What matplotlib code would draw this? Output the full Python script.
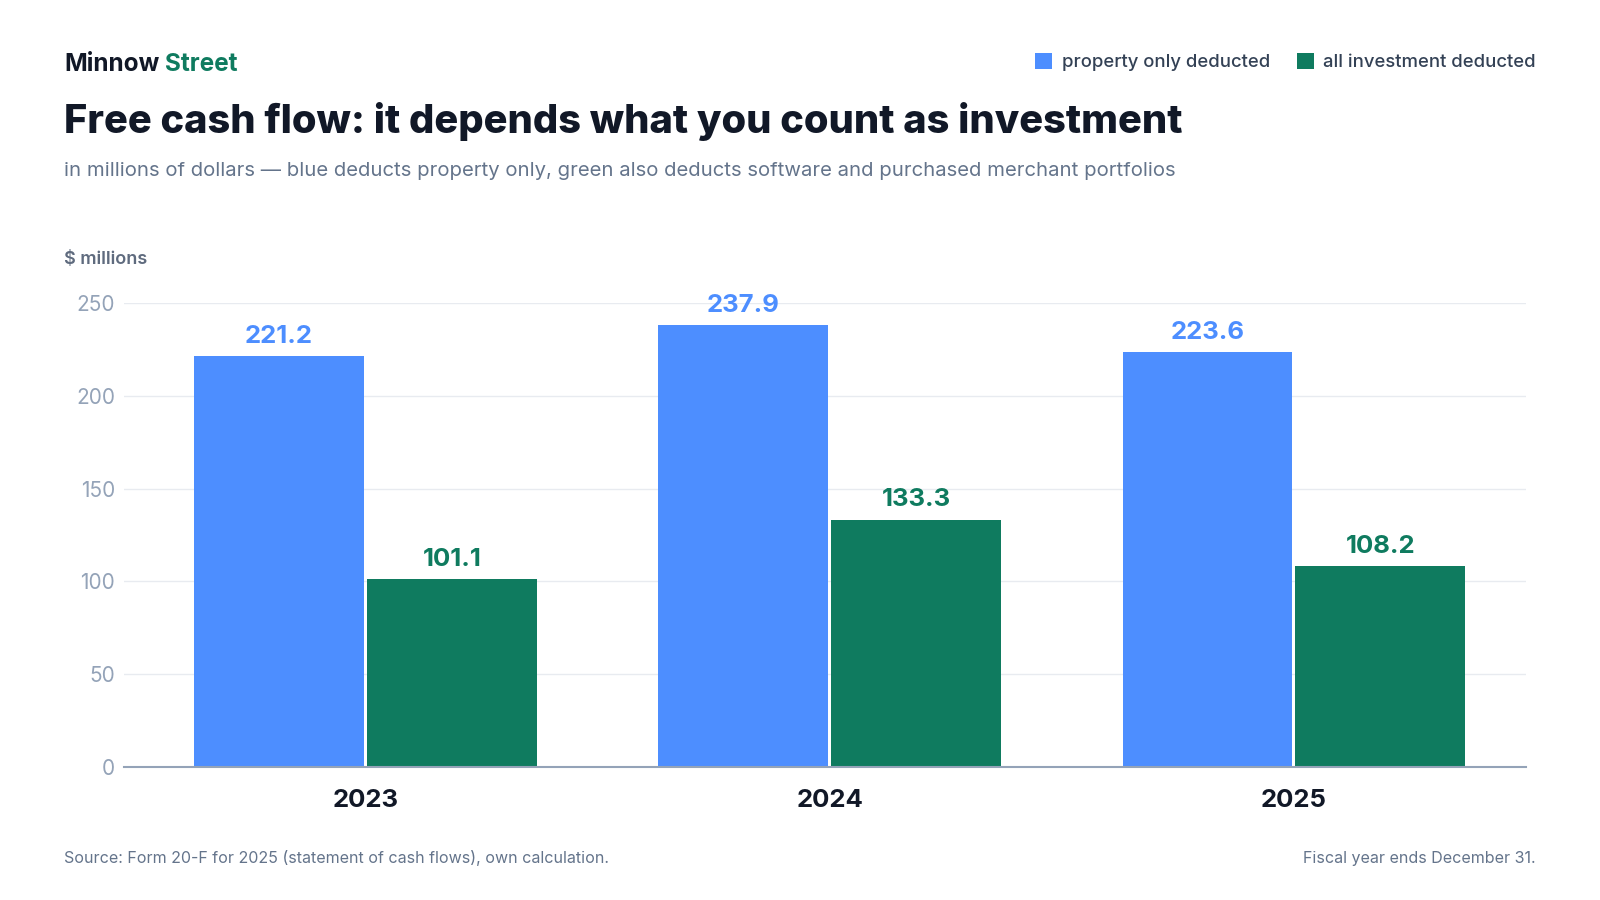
import numpy as np
import matplotlib
matplotlib.use("Agg")
import matplotlib.pyplot as plt

plt.rcParams['font.family'] = ['Inter', 'DejaVu Sans']

# data
years = ['2023', '2024', '2025']
property_only = [221.2, 237.9, 223.6]
all_investment = [101.1, 133.3, 108.2]
series_names = ['property only deducted', 'all investment deducted']
y_ticks = [0, 50, 100, 150, 200, 250]

BLUE = '#4D8EFF'
GREEN = '#0F7B5F'
DARK = '#111827'
SLATE = '#64748B'
TICK = '#94A3B8'

W, H = 1600, 900


def fy(y):
    # pixel row (from top) -> figure fraction
    return 1 - y / H


fig = plt.figure(figsize=(16, 9), dpi=100)
fig.patch.set_facecolor('white')

ax_left, ax_right, ax_top, ax_bottom = 124, 1526, 303, 767
ax = fig.add_axes([ax_left / W, fy(ax_bottom), (ax_right - ax_left) / W,
                   (ax_bottom - ax_top) / H])

x = np.arange(len(years))
bw = 0.366
off = 0.186
b1 = ax.bar(x - off, property_only, width=bw, color=BLUE, label=series_names[0], zorder=3)
b2 = ax.bar(x + off, all_investment, width=bw, color=GREEN, label=series_names[1], zorder=3)

for bars, vals, col in [(b1, property_only, BLUE), (b2, all_investment, GREEN)]:
    for rect, v in zip(bars, vals):
        ax.annotate(f'{v:.1f}', (rect.get_x() + rect.get_width() / 2, v),
                    xytext=(0, 9.5), textcoords='offset points',
                    ha='center', va='baseline', fontsize=18.5, fontweight='bold',
                    color=col, clip_on=False, annotation_clip=False)

ax.set_xlim(-0.52, 2.5)
ax.set_ylim(0, 250)
ax.set_yticks(y_ticks)
ax.set_xticks(x)
ax.set_xticklabels(years, fontsize=18.5, fontweight='bold', color=DARK)
ax.tick_params(axis='y', length=0, pad=6.5, labelsize=15, labelcolor=TICK)
ax.tick_params(axis='x', length=0, pad=16)

ax.yaxis.grid(True, color='#E8EBF0', lw=1)
ax.set_axisbelow(True)
for s in ['top', 'right', 'left']:
    ax.spines[s].set_visible(False)
ax.spines['bottom'].set_color(TICK)
ax.spines['bottom'].set_linewidth(1.5)
ax.spines['bottom'].set_zorder(4)

# header
t = fig.text(64 / W, fy(71), 'Minnow', fontsize=17.5, fontweight='bold',
             color=DARK, va='baseline', ha='left')
ax.annotate('Street', xy=(1, 0), xycoords=t, xytext=(4.5, 0),
            textcoords='offset points', va='bottom', ha='left',
            fontsize=17.5, fontweight='bold', color=GREEN)

fig.text(64 / W, fy(133), 'Free cash flow: it depends what you count as investment',
         fontsize=28.7, fontweight='heavy', color=DARK, va='baseline', ha='left')
fig.text(64 / W, fy(176),
         'in millions of dollars \u2014 blue deducts property only, green also deducts '
         'software and purchased merchant portfolios',
         fontsize=14.6, color=SLATE, va='baseline', ha='left')
fig.text(64 / W, fy(264), '$ millions', fontsize=13, fontweight='semibold',
         color='#5F6B7E', va='baseline', ha='left')

leg = fig.legend(handles=[b1, b2], loc='center right',
                 bbox_to_anchor=(1536 / W, fy(62)), ncol=2, frameon=False,
                 fontsize=13.3, handlelength=0.95, handleheight=0.95,
                 handletextpad=0.5, columnspacing=1.45, borderpad=0,
                 borderaxespad=0, labelcolor='#334155')
for txt in leg.get_texts():
    txt.set_fontweight('medium')

# footer
fig.text(64 / W, fy(858), 'Source: Form 20-F for 2025 (statement of cash flows), own calculation.',
         fontsize=11.55, color=SLATE, va='center', ha='left')
fig.text(1536 / W, fy(858), 'Fiscal year ends December 31.',
         fontsize=11.55, color=SLATE, va='center', ha='right')

fig.savefig('out.png', dpi=100, facecolor='white')
